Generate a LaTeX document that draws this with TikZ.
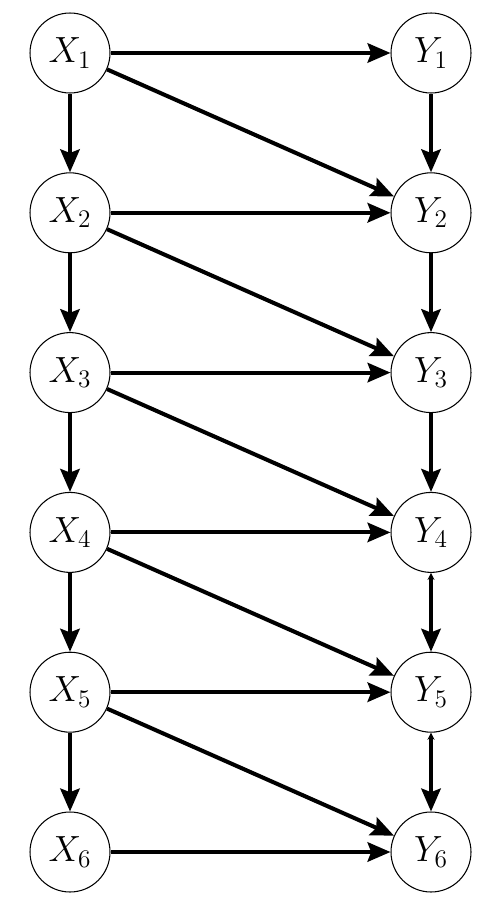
\documentclass[tikz,border=0pt]{standalone}
\usetikzlibrary{arrows.meta}
\begin{document}
\begin{tikzpicture}[x=0.02cm,y=-0.02cm,
  var/.style={circle,draw,line width=0.6pt,minimum size=1.6cm,inner sep=0pt,font=\fontsize{22}{26}\selectfont},
  edge/.style={line width=2.3pt,-{Stealth[length=13pt,width=11pt,inset=2pt]}},
  bedge/.style={line width=2.3pt,{Stealth[length=4pt,width=4pt]}-{Stealth[length=13pt,width=11pt,inset=2pt]}}]
\useasboundingbox (0,0) rectangle (500,905);
\foreach \i in {1,...,6}{
  \node[var] (X\i) at (70,{53+159.8*(\i-1)}) {$X_{\i}$};
  \node[var] (Y\i) at (431,{53+159.8*(\i-1)}) {$Y_{\i}$};
}
\foreach \i in {1,...,6}{ \draw[edge] (X\i) -- (Y\i); }
\foreach \i/\j in {1/2,2/3,3/4,4/5,5/6}{
  \draw[edge] (X\i) -- (X\j);
  \draw[edge] (X\i) -- (Y\j);
}
\foreach \i/\j in {1/2,2/3,3/4}{ \draw[edge] (Y\i) -- (Y\j); }
\foreach \i/\j in {4/5,5/6}{ \draw[bedge] (Y\i) -- (Y\j); }
\end{tikzpicture}
\end{document}
